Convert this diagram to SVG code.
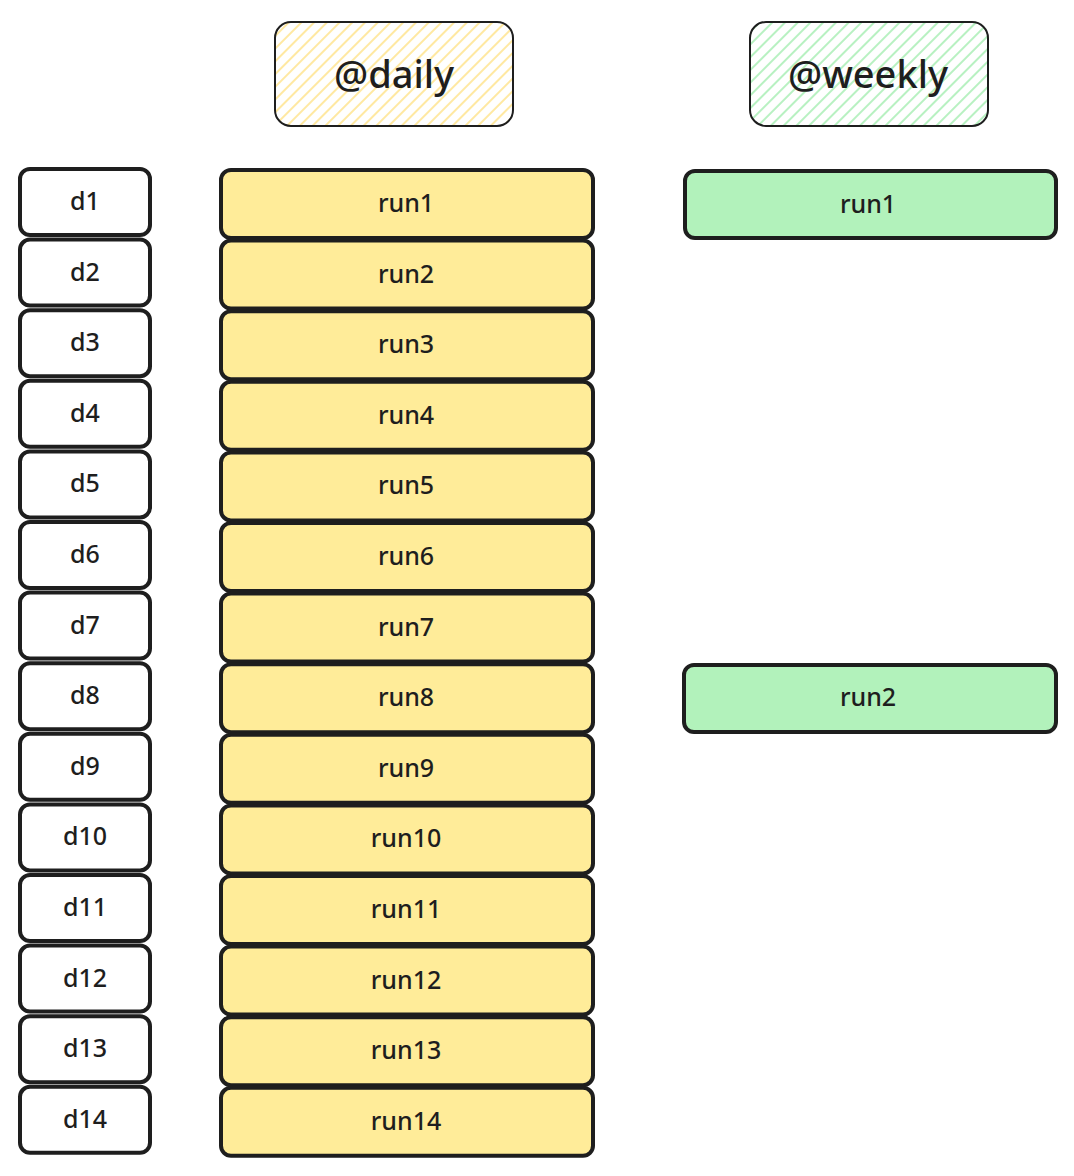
<svg xmlns="http://www.w3.org/2000/svg" width="1074" height="1176" viewBox="0 0 1074 1176">
<defs>
<pattern id="hy" patternUnits="userSpaceOnUse" width="9" height="9" patternTransform="rotate(45)"><line x1="4" y1="0" x2="4" y2="9" stroke="#ffe38a" stroke-width="1.6"/></pattern>
<pattern id="hg" patternUnits="userSpaceOnUse" width="9" height="9" patternTransform="rotate(45)"><line x1="4" y1="0" x2="4" y2="9" stroke="#a6eeb2" stroke-width="1.6"/></pattern>
</defs>
<style>
.hd{stroke:#1e1e1e;stroke-width:2;}
.d{fill:#ffffff;stroke:#1e1e1e;stroke-width:4;}
.r{fill:#ffec99;stroke:#1e1e1e;stroke-width:4;}
.w{fill:#b2f2bb;stroke:#1e1e1e;stroke-width:4;}
text{font-family:"Noto Sans","Open Sans",sans-serif;fill:#1e1e1e;text-anchor:middle;dominant-baseline:central;font-weight:500;}
.t{font-size:25px;}
.h{font-size:38px;}
</style>
<rect width="1074" height="1176" fill="#ffffff"/>
<g id="header-daily"><rect class="hd" x="275" y="22" width="238" height="104" rx="16" fill="url(#hy)"/><text class="h" x="394" y="73">@daily</text></g>
<g id="header-weekly"><rect class="hd" x="750" y="22" width="238" height="104" rx="16" fill="url(#hg)"/><text class="h" x="868" y="73">@weekly</text></g>
<g id="d1"><rect class="d" x="20" y="169" width="130" height="66" rx="10"/><text class="t" x="85" y="200">d1</text></g>
<g id="d2"><rect class="d" x="20" y="239.6" width="130" height="66" rx="10"/><text class="t" x="85" y="270.6">d2</text></g>
<g id="d3"><rect class="d" x="20" y="310.2" width="130" height="66" rx="10"/><text class="t" x="85" y="341.2">d3</text></g>
<g id="d4"><rect class="d" x="20" y="380.8" width="130" height="66" rx="10"/><text class="t" x="85" y="411.8">d4</text></g>
<g id="d5"><rect class="d" x="20" y="451.4" width="130" height="66" rx="10"/><text class="t" x="85" y="482.4">d5</text></g>
<g id="d6"><rect class="d" x="20" y="522" width="130" height="66" rx="10"/><text class="t" x="85" y="553">d6</text></g>
<g id="d7"><rect class="d" x="20" y="592.6" width="130" height="66" rx="10"/><text class="t" x="85" y="623.6">d7</text></g>
<g id="d8"><rect class="d" x="20" y="663.2" width="130" height="66" rx="10"/><text class="t" x="85" y="694.2">d8</text></g>
<g id="d9"><rect class="d" x="20" y="733.8" width="130" height="66" rx="10"/><text class="t" x="85" y="764.8">d9</text></g>
<g id="d10"><rect class="d" x="20" y="804.4" width="130" height="66" rx="10"/><text class="t" x="85" y="835.4">d10</text></g>
<g id="d11"><rect class="d" x="20" y="875" width="130" height="66" rx="10"/><text class="t" x="85" y="906">d11</text></g>
<g id="d12"><rect class="d" x="20" y="945.6" width="130" height="66" rx="10"/><text class="t" x="85" y="976.6">d12</text></g>
<g id="d13"><rect class="d" x="20" y="1016.2" width="130" height="66" rx="10"/><text class="t" x="85" y="1047.2">d13</text></g>
<g id="d14"><rect class="d" x="20" y="1086.8" width="130" height="66" rx="10"/><text class="t" x="85" y="1117.8">d14</text></g>
<g id="run1"><rect class="r" x="221" y="170" width="372" height="68" rx="10"/><text class="t" x="406" y="202">run1</text></g>
<g id="run2"><rect class="r" x="221" y="240.6" width="372" height="68" rx="10"/><text class="t" x="406" y="272.6">run2</text></g>
<g id="run3"><rect class="r" x="221" y="311.2" width="372" height="68" rx="10"/><text class="t" x="406" y="343.2">run3</text></g>
<g id="run4"><rect class="r" x="221" y="381.8" width="372" height="68" rx="10"/><text class="t" x="406" y="413.8">run4</text></g>
<g id="run5"><rect class="r" x="221" y="452.4" width="372" height="68" rx="10"/><text class="t" x="406" y="484.4">run5</text></g>
<g id="run6"><rect class="r" x="221" y="523" width="372" height="68" rx="10"/><text class="t" x="406" y="555">run6</text></g>
<g id="run7"><rect class="r" x="221" y="593.6" width="372" height="68" rx="10"/><text class="t" x="406" y="625.6">run7</text></g>
<g id="run8"><rect class="r" x="221" y="664.2" width="372" height="68" rx="10"/><text class="t" x="406" y="696.2">run8</text></g>
<g id="run9"><rect class="r" x="221" y="734.8" width="372" height="68" rx="10"/><text class="t" x="406" y="766.8">run9</text></g>
<g id="run10"><rect class="r" x="221" y="805.4" width="372" height="68" rx="10"/><text class="t" x="406" y="837.4">run10</text></g>
<g id="run11"><rect class="r" x="221" y="876" width="372" height="68" rx="10"/><text class="t" x="406" y="908">run11</text></g>
<g id="run12"><rect class="r" x="221" y="946.6" width="372" height="68" rx="10"/><text class="t" x="406" y="978.6">run12</text></g>
<g id="run13"><rect class="r" x="221" y="1017.2" width="372" height="68" rx="10"/><text class="t" x="406" y="1049.2">run13</text></g>
<g id="run14"><rect class="r" x="221" y="1087.8" width="372" height="68" rx="10"/><text class="t" x="406" y="1119.8">run14</text></g>
<g id="weekly-run1"><rect class="w" x="685" y="171" width="371" height="67" rx="10"/><text class="t" x="868" y="203">run1</text></g>
<g id="weekly-run2"><rect class="w" x="684" y="665" width="372" height="67" rx="10"/><text class="t" x="868" y="696">run2</text></g>
<g id="connectors"></g>
</svg>
